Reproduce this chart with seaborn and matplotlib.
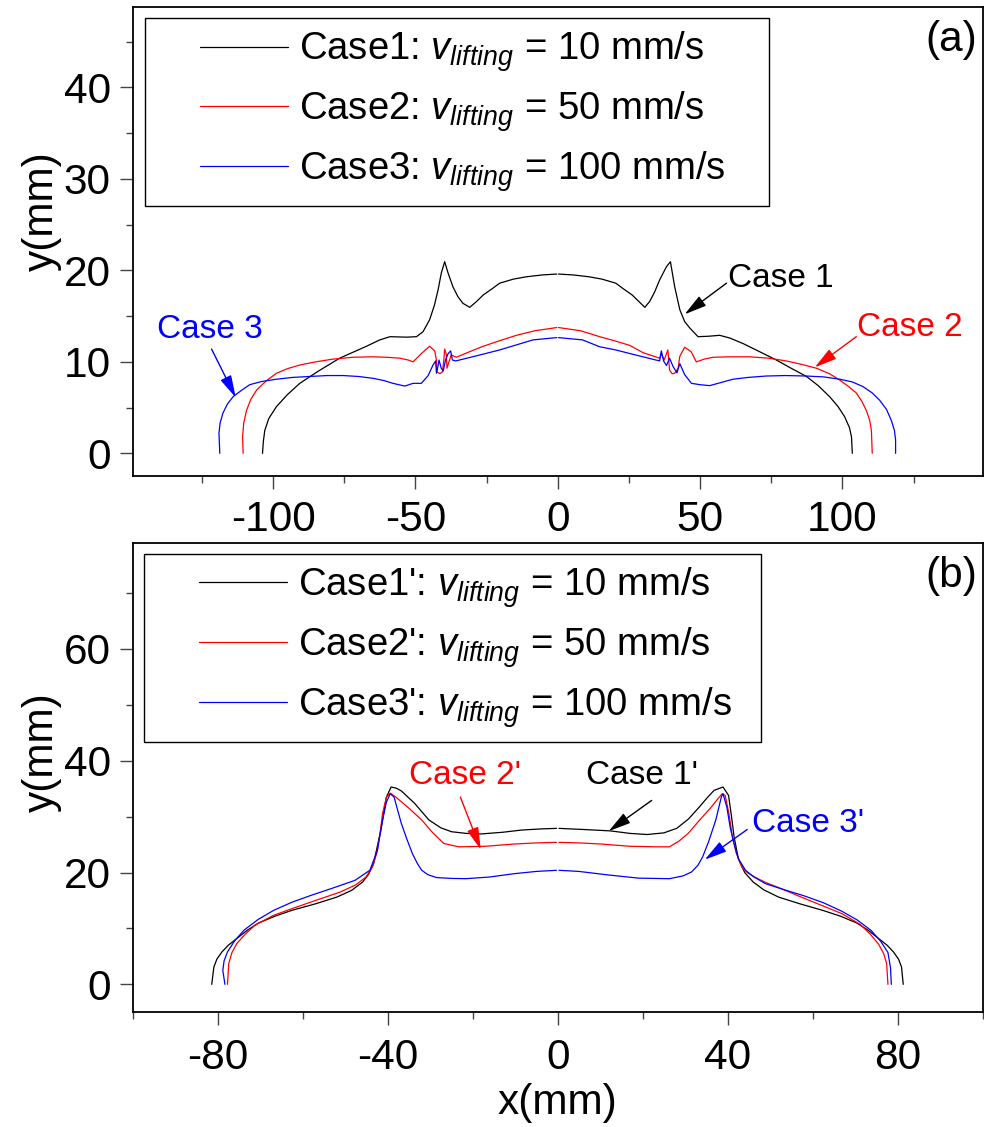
import matplotlib
matplotlib.use("Agg")
import matplotlib.pyplot as plt
import numpy as np
import pandas as pd
import seaborn as sns
from matplotlib.legend_handler import HandlerLine2D
from matplotlib.lines import Line2D
from matplotlib.ticker import MultipleLocator

# ---------------- (a) profiles: Case1..Case3 ----------------
case1_left_x = [-103.7, -103.4, -102.9, -101.5, -98.8, -95.0, -90.6, -84.0, -76.6, -67.2, -62.5, -58.9,
                -53.1, -49.6, -47.3, -45.0, -43.3, -42.0, -40.9, -39.7, -38.5, -36.8, -35.0, -33.3,
                -30.9, -28.5, -26.2, -23.0, -20.4, -15.5, -11.0, -5.5, -0.3]
case1_left_y = [0.0, 1.3, 2.5, 3.8, 5.1, 6.4, 7.65, 9.0, 10.4, 11.7, 12.4, 12.75,
                12.7, 12.75, 13.3, 14.6, 16.2, 17.9, 19.7, 20.95, 19.7, 18.2, 17.1, 16.4,
                15.96, 16.6, 17.3, 18.0, 18.6, 19.05, 19.3, 19.5, 19.6]
case1_right_x = [0.3, 5.5, 11.0, 15.5, 20.4, 23.0, 26.2, 28.5, 30.6, 32.3, 34.0, 35.8, 38.2, 39.6,
                 41.1, 42.9, 44.6, 46.4, 49.3, 53.0, 56.9, 60.5, 65.1, 71.0, 76.8, 82.0, 87.4,
                 91.5, 95.5, 98.5, 100.8, 102.5, 103.2, 103.5]
case1_right_y = [19.6, 19.5, 19.3, 19.05, 18.6, 18.0, 17.3, 16.6, 15.96, 16.6, 17.6, 18.95, 20.4, 20.95,
                 18.2, 15.7, 14.4, 13.7, 12.75, 12.8, 12.9, 12.6, 12.0, 11.1, 10.2, 9.3, 8.4,
                 7.4, 6.2, 5.1, 4.0, 2.8, 1.8, 0.0]

case2_left_x = [-110.5, -110.7, -110.3, -109.3, -107.8, -105.8, -102.5, -98.8, -95.0, -90.6, -85.0,
                -78.9, -72.0, -64.9, -60.0, -55.5, -52.5, -50.8, -47.9, -45.0, -43.2, -42.6, -42.4,
                -41.4, -40.5, -40.0, -39.7, -39.1, -38.9, -38.2, -37.4, -35.6, -31.0, -26.2, -20.0,
                -14.5, -8.0, -0.3]
case2_left_y = [0.0, 1.8, 3.3, 4.7, 5.9, 6.9, 7.9, 8.75, 9.25, 9.65, 10.0,
                10.3, 10.5, 10.55, 10.5, 10.4, 10.2, 10.0, 10.9, 11.7, 11.2, 10.2, 8.9,
                8.7, 8.9, 10.2, 11.4, 10.75, 9.3, 10.0, 10.75, 10.5, 11.1, 11.7, 12.35,
                12.9, 13.4, 13.75]
case2_right_x = [0.3, 8.0, 14.75, 20.0, 25.3, 30.0, 35.8, 36.4, 37.4, 38.7, 39.3, 40.2, 41.1, 42.3,
                 42.9, 44.6, 46.9, 48.7, 51.5, 54.6, 60.0, 67.4, 74.0, 80.3, 86.0, 90.9, 95.5,
                 99.1, 102.2, 104.9, 106.8, 108.4, 109.6, 110.2, 110.5]
case2_right_y = [13.75, 13.4, 12.75, 12.3, 11.8, 11.0, 10.4, 10.9, 10.2, 11.3, 9.1, 8.7, 8.75, 9.3,
                 10.6, 11.6, 11.1, 10.0, 10.3, 10.5, 10.55, 10.55, 10.4, 10.1, 9.7, 9.3, 8.7,
                 8.0, 7.3, 6.6, 5.7, 4.7, 3.6, 2.5, 0.0]

case3_left_x = [-118.7, -119.0, -118.6, -117.6, -116.0, -114.0, -111.0, -108.2, -104.0, -98.8, -93.0,
                -87.1, -81.0, -75.4, -70.0, -64.9, -61.0, -57.9, -53.7, -50.8, -47.9, -45.5, -43.8,
                -42.9, -42.6, -42.0, -41.7, -40.9, -40.2, -39.4, -38.5, -37.6, -37.0, -35.8, -28.0,
                -20.4, -14.0, -8.7, -0.3]
case3_left_y = [0.0, 2.2, 3.3, 4.4, 5.4, 6.2, 6.9, 7.5, 7.85, 8.1, 8.3,
                8.4, 8.5, 8.5, 8.4, 8.2, 7.95, 7.65, 7.35, 7.65, 7.65, 8.5, 9.65,
                10.1, 8.75, 9.6, 10.2, 9.3, 9.0, 10.2, 10.9, 11.2, 10.2, 10.1, 10.7,
                11.3, 11.9, 12.4, 12.65]
case3_right_x = [0.3, 8.7, 14.75, 20.4, 28.0, 35.8, 36.4, 37.2, 38.2, 39.3, 40.5, 41.9, 42.9, 44.6,
                 47.0, 50.0, 53.4, 57.5, 61.6, 67.0, 73.3, 80.0, 87.4, 93.5, 99.1, 103.5, 107.2,
                 110.5, 113.1, 115.5, 117.2, 118.3, 118.7, 118.7]
case3_right_y = [12.65, 12.4, 11.65, 11.3, 10.7, 10.1, 11.2, 10.1, 9.6, 10.4, 9.5, 8.8, 9.8, 8.6,
                 7.65, 7.5, 7.4, 7.75, 8.1, 8.3, 8.45, 8.5, 8.45, 8.35, 8.1, 7.8, 7.3,
                 6.6, 5.8, 4.8, 3.6, 2.5, 1.45, 0.0]

# ---------------- (b) profiles: Case1'..Case3' ----------------
case1p_left_x = [-81.4, -80.9, -80.2, -79.0, -77.5, -75.5, -73.0, -70.3, -66.5, -62.5, -57.0, -52.0,
                 -48.5, -45.9, -44.5, -43.3, -42.5, -41.6, -40.9, -40.3, -39.2, -38.0, -36.8, -33.7,
                 -30.3, -27.5, -25.0, -21.5, -18.1, -13.0, -8.5, -4.0, -0.3]
case1p_left_y = [0.0, 3.1, 4.5, 5.8, 7.0, 8.2, 9.7, 11.0, 12.2, 13.25, 14.4, 15.6,
                 16.8, 18.3, 19.7, 21.6, 24.5, 27.6, 30.8, 33.5, 35.3, 35.1, 34.6, 32.4,
                 29.4, 28.0, 27.3, 27.0, 26.9, 27.2, 27.6, 27.8, 27.9]
case1p_right_x = [0.3, 6.0, 12.4, 17.0, 21.1, 25.0, 28.0, 30.8, 33.3, 35.2, 36.8, 38.9, 40.2, 40.9,
                  41.5, 42.5, 44.0, 46.0, 48.5, 52.0, 57.0, 62.5, 66.5, 70.3, 73.0, 75.5, 77.5,
                  79.0, 80.2, 80.9, 81.3]
case1p_right_y = [27.9, 27.7, 27.45, 27.0, 26.8, 27.1, 27.9, 29.6, 31.7, 33.4, 34.7, 35.3, 33.8, 30.0,
                  26.4, 22.5, 20.0, 18.3, 16.9, 15.6, 14.4, 13.2, 12.2, 11.0, 9.7, 8.2, 7.0,
                  5.8, 4.5, 3.1, 0.0]

case2p_left_x = [-77.7, -77.4, -76.7, -75.5, -73.5, -71.2, -67.0, -62.5, -57.0, -51.2, -47.5, -45.1,
                 -43.6, -42.6, -41.8, -41.2, -40.3, -39.4, -38.1, -35.0, -32.0, -29.5, -26.8, -23.3,
                 -17.0, -10.2, -5.0, -0.3]
case2p_left_y = [0.0, 3.7, 5.6, 7.3, 9.0, 10.6, 12.3, 13.55, 15.0, 16.5, 17.8, 19.2,
                 21.0, 23.4, 27.0, 30.6, 33.5, 34.2, 33.5, 31.5, 29.4, 27.2, 25.2, 24.6,
                 24.7, 25.1, 25.3, 25.4]
case2p_right_x = [0.3, 5.0, 10.2, 17.0, 23.3, 26.3, 28.5, 30.7, 33.3, 35.9, 37.5, 38.7, 39.4, 40.3,
                  41.1, 42.0, 43.3, 44.6, 46.3, 49.0, 52.0, 57.0, 62.5, 67.0, 71.2, 73.5, 75.5,
                  76.7, 77.4, 77.7]
case2p_right_y = [25.4, 25.3, 25.1, 24.7, 24.6, 24.6, 25.6, 27.0, 29.3, 31.5, 33.0, 34.1, 33.8, 30.5,
                  26.4, 23.5, 21.0, 20.0, 19.2, 18.2, 17.3, 15.7, 14.0, 12.6, 10.7, 9.0, 7.2,
                  5.5, 3.7, 0.0]

case3p_left_x = [-78.3, -78.8, -78.5, -77.7, -76.0, -73.8, -70.5, -66.8, -62.5, -58.1, -53.0, -47.7,
                 -44.2, -42.4, -41.8, -41.2, -40.3, -39.4, -38.5, -37.6, -36.8, -35.5, -34.2, -33.0,
                 -32.0, -30.5, -28.5, -25.0, -21.6, -16.0, -10.2, -5.0, -0.3]
case3p_left_y = [0.0, 2.5, 4.2, 5.8, 7.8, 9.7, 11.6, 13.25, 14.7, 15.9, 17.2, 18.6,
                 20.4, 24.0, 26.8, 29.4, 32.6, 34.1, 33.5, 31.0, 28.8, 26.0, 23.4, 21.6,
                 20.4, 19.6, 19.1, 18.95, 18.9, 19.2, 19.8, 20.2, 20.4]
case3p_right_x = [0.3, 5.0, 11.5, 19.0, 26.3, 29.5, 31.5, 33.0, 34.1, 35.5, 37.2, 38.5, 38.9, 39.8,
                  40.6, 41.5, 42.5, 44.2, 46.0, 48.9, 53.0, 58.1, 62.5, 66.8, 70.5, 73.8, 76.0,
                  77.7, 78.3, 78.5]
case3p_right_y = [20.4, 20.2, 19.6, 19.0, 18.9, 19.4, 20.1, 21.3, 22.8, 25.5, 29.4, 33.5, 34.1, 31.7,
                  28.0, 25.2, 22.5, 20.4, 19.3, 18.0, 17.0, 15.8, 14.6, 13.1, 11.5, 9.6, 7.7,
                  5.7, 3.0, 0.0]

colors = ["#000000", "#ff0000", "#0000ff"]
labels_a = [r"Case1: $v_{lifting}$ = 10 mm/s",
            r"Case2: $v_{lifting}$ = 50 mm/s",
            r"Case3: $v_{lifting}$ = 100 mm/s"]
labels_b = [r"Case1': $v_{lifting}$ = 10 mm/s",
            r"Case2': $v_{lifting}$ = 50 mm/s",
            r"Case3': $v_{lifting}$ = 100 mm/s"]

sns.set_style("ticks")
plt.rcParams["font.family"] = ["Liberation Sans", "DejaVu Sans"]
plt.rcParams["mathtext.fontset"] = "custom"
plt.rcParams["mathtext.rm"] = "Liberation Sans"
plt.rcParams["mathtext.it"] = "Liberation Sans:italic"
plt.rcParams["axes.unicode_minus"] = False
plt.rcParams["text.color"] = "#000000"
plt.rcParams["axes.labelcolor"] = "#000000"
plt.rcParams["xtick.color"] = "#000000"
plt.rcParams["ytick.color"] = "#000000"

FS_TICK = 30.5
FS_LEG = 27.5
FS_NOTE = 24
LW = 0.9

fig = plt.figure(figsize=(9.84, 11.27), dpi=100)
W, H = 984.0, 1127.0
ax_a = fig.add_axes([132.7 / W, 1 - 475.7 / H, 850 / W, 468.7 / H])
ax_b = fig.add_axes([132.7 / W, 1 - 1012.3 / H, 850 / W, 469.6 / H])


def draw_profile(ax, xl, yl, xr, yr, color):
    for xs, ys in ((xl, yl), (xr, yr)):
        df = pd.DataFrame({"x": xs, "y": ys})
        sns.lineplot(data=df, x="x", y="y", sort=False, estimator=None,
                     color=color, lw=LW, ax=ax)


draw_profile(ax_a, case1_left_x, case1_left_y, case1_right_x, case1_right_y, colors[0])
draw_profile(ax_a, case2_left_x, case2_left_y, case2_right_x, case2_right_y, colors[1])
draw_profile(ax_a, case3_left_x, case3_left_y, case3_right_x, case3_right_y, colors[2])

draw_profile(ax_b, case1p_left_x, case1p_left_y, case1p_right_x, case1p_right_y, colors[0])
draw_profile(ax_b, case2p_left_x, case2p_left_y, case2p_right_x, case2p_right_y, colors[1])
draw_profile(ax_b, case3p_left_x, case3p_left_y, case3p_right_x, case3p_right_y, colors[2])


def style_axes(ax, xlim, ylim, xmaj, xmin, ymaj, ymin, xpad):
    ax.set_xlim(*xlim)
    ax.set_ylim(*ylim)
    ax.xaxis.set_major_locator(MultipleLocator(xmaj))
    ax.xaxis.set_minor_locator(MultipleLocator(xmin))
    ax.yaxis.set_major_locator(MultipleLocator(ymaj))
    ax.yaxis.set_minor_locator(MultipleLocator(ymin))
    for sp in ax.spines.values():
        sp.set_visible(True)
        sp.set_color("#000000")
        sp.set_linewidth(1.3)
    ax.tick_params(which="both", direction="out", top=False, right=False,
                   color="#444444", width=1.0)
    ax.tick_params(which="major", length=9.3, labelsize=FS_TICK, labelcolor="#000000")
    ax.tick_params(which="minor", length=4.7)
    ax.tick_params(axis="x", which="major", pad=xpad)
    ax.tick_params(axis="y", which="major", pad=6.5)
    ax.set_xlabel("")
    ax.set_ylabel("")
    ax.set_facecolor("white")


style_axes(ax_a, (-149.3, 149.3), (-2.45, 48.8), 50, 25, 10, 5, 8.0)
style_axes(ax_b, (-100, 100), (-5.0, 79.0), 40, 20, 20, 10, 9.5)

ax_a.set_ylabel("y(mm)", fontsize=FS_TICK)
ax_a.yaxis.set_label_coords(-0.083, 0.565)
ax_b.set_ylabel("y(mm)", fontsize=FS_TICK)
ax_b.yaxis.set_label_coords(-0.083, 0.553)
ax_b.set_xlabel("x(mm)", fontsize=FS_TICK)
ax_b.xaxis.set_label_coords(0.5, -0.1506)


def add_legend(ax, labels, anchor):
    handles = [Line2D([], [], color=c, lw=LW) for c in colors]
    fs_px = FS_LEG * 100 / 72.0
    pad_px = 0.3 * fs_px
    leg = ax.legend(handles, labels, loc="upper left", bbox_to_anchor=anchor,
                    mode="expand", borderaxespad=0.0, fontsize=FS_LEG,
                    borderpad=0.3, labelspacing=0.4,
                    handlelength=(288 - 145 - pad_px) / fs_px,
                    handletextpad=0.28, frameon=True, fancybox=False,
                    framealpha=1.0, edgecolor="#000000",
                    handler_map={Line2D: HandlerLine2D(xpad=(200 - 145 - pad_px) / fs_px)})
    leg.get_frame().set_linewidth(1.0)
    for t in leg.get_texts():
        t.set_color("#000000")
    return leg


add_legend(ax_a, labels_a, (0.0145, 0.3, 0.7341, 0.6765))
add_legend(ax_b, labels_b, (0.0133, 0.3, 0.7255, 0.676))


def note(ax, text, pos, tail, tip, color):
    ax.text(pos[0], pos[1], text, color=color, fontsize=FS_NOTE,
            ha="center", va="center")
    ax.annotate("", xy=tip, xytext=tail,
                arrowprops=dict(arrowstyle="-|>,head_length=0.68,head_width=0.18",
                                color=color, lw=1.0, shrinkA=0, shrinkB=0,
                                mutation_scale=20))


note(ax_a, "Case 1", (78.5, 19.1), (59.3, 18.6), (44.6, 15.2), colors[0])
note(ax_a, "Case 2", (123.8, 13.8), (104.9, 12.75), (90.3, 9.4), colors[1])
note(ax_a, "Case 3", (-122.2, 13.5), (-121.6, 11.4), (-113.1, 6.1), colors[2])
ax_a.text(138.4, 45.2, "(a)", fontsize=FS_TICK, ha="center", va="center")

note(ax_b, "Case 2'", (-21.8, 37.3), (-22.9, 33.5), (-18.1, 24.1), colors[1])
note(ax_b, "Case 1'", (19.8, 37.3), (22.1, 32.9), (12.0, 27.4), colors[0])
note(ax_b, "Case 3'", (58.8, 28.8), (44.6, 27.7), (34.6, 22.3), colors[2])
ax_b.text(92.5, 73.1, "(b)", fontsize=FS_TICK, ha="center", va="center")

fig.savefig("out.png", dpi=100, facecolor="white")
